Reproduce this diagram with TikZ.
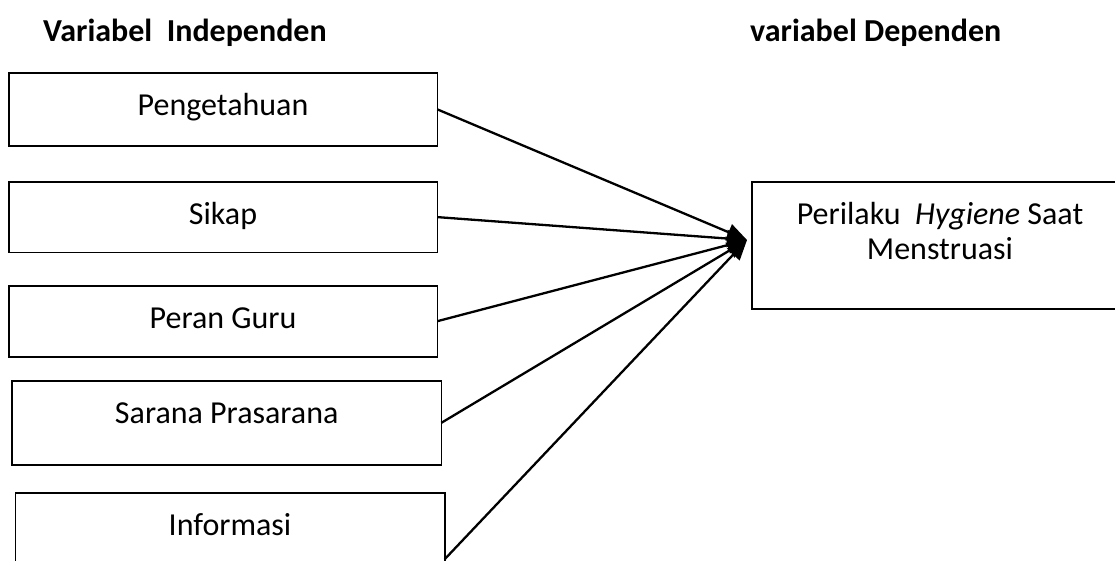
\documentclass[tikz,border=0pt]{standalone}
\usepackage{fontspec}
\setmainfont{Carlito}
\usetikzlibrary{arrows.meta}
\begin{document}
\begin{tikzpicture}[x=1pt,y=-1pt,
  box/.style={draw,line width=1.6pt,inner sep=0pt,outer sep=0pt,anchor=north west},
  lbl/.style={anchor=base,inner sep=0pt,font=\fontsize{32}{38}\selectfont},
  head/.style={anchor=base west,inner sep=0pt,font=\fontsize{32}{38}\selectfont\bfseries},
  link/.style={line width=2.3pt,-{Triangle[length=20pt,width=17pt]}}]
\useasboundingbox (0,0) rectangle (1115,560);
\clip (0,0) rectangle (1115,560);
% headers
\node[head] (h1) at (43,41) {Variabel\ \ Independen};
\node[head] (h2) at (750,41) {variabel Dependen};
% boxes
\node[box,minimum width=428.6pt,minimum height=73.3pt] (b1) at (8.7,72.7) {};
\node[box,minimum width=428.6pt,minimum height=70.8pt] (b2) at (8.7,181.7) {};
\node[box,minimum width=428.6pt,minimum height=71pt] (b3) at (8.7,285.7) {};
\node[box,minimum width=429.3pt,minimum height=84.3pt] (b4) at (12,380.7) {};
\node[box,minimum width=429.4pt,minimum height=133pt] (b5) at (15.3,492.7) {};
\node[box,minimum width=376pt,minimum height=127.3pt] (r) at (752,181.7) {};
% labels
\node[lbl] (l1) at (223,115.5) {Pengetahuan};
\node[lbl] (l2) at (223,224.5) {Sikap};
\node[lbl] (l3) at (223,328.5) {Peran Guru};
\node[lbl] (l4) at (226.7,423.5) {Sarana Prasarana};
\node[lbl] (l5) at (230,535.5) {Informasi};
\node[lbl] (lr1) at (940,224.5) {Perilaku\ \ \textit{Hygiene} Saat};
\node[lbl] (lr2) at (940,259.5) {Menstruasi};
% connectors
\coordinate (t) at (747,240);
\draw[link] (b1.east) -- (t);
\draw[link] (b2.east) -- (t);
\draw[link] (b3.east) -- (t);
\draw[link] (b4.east) -- (t);
\draw[link] (b5.east) -- (t);
\end{tikzpicture}
\end{document}
